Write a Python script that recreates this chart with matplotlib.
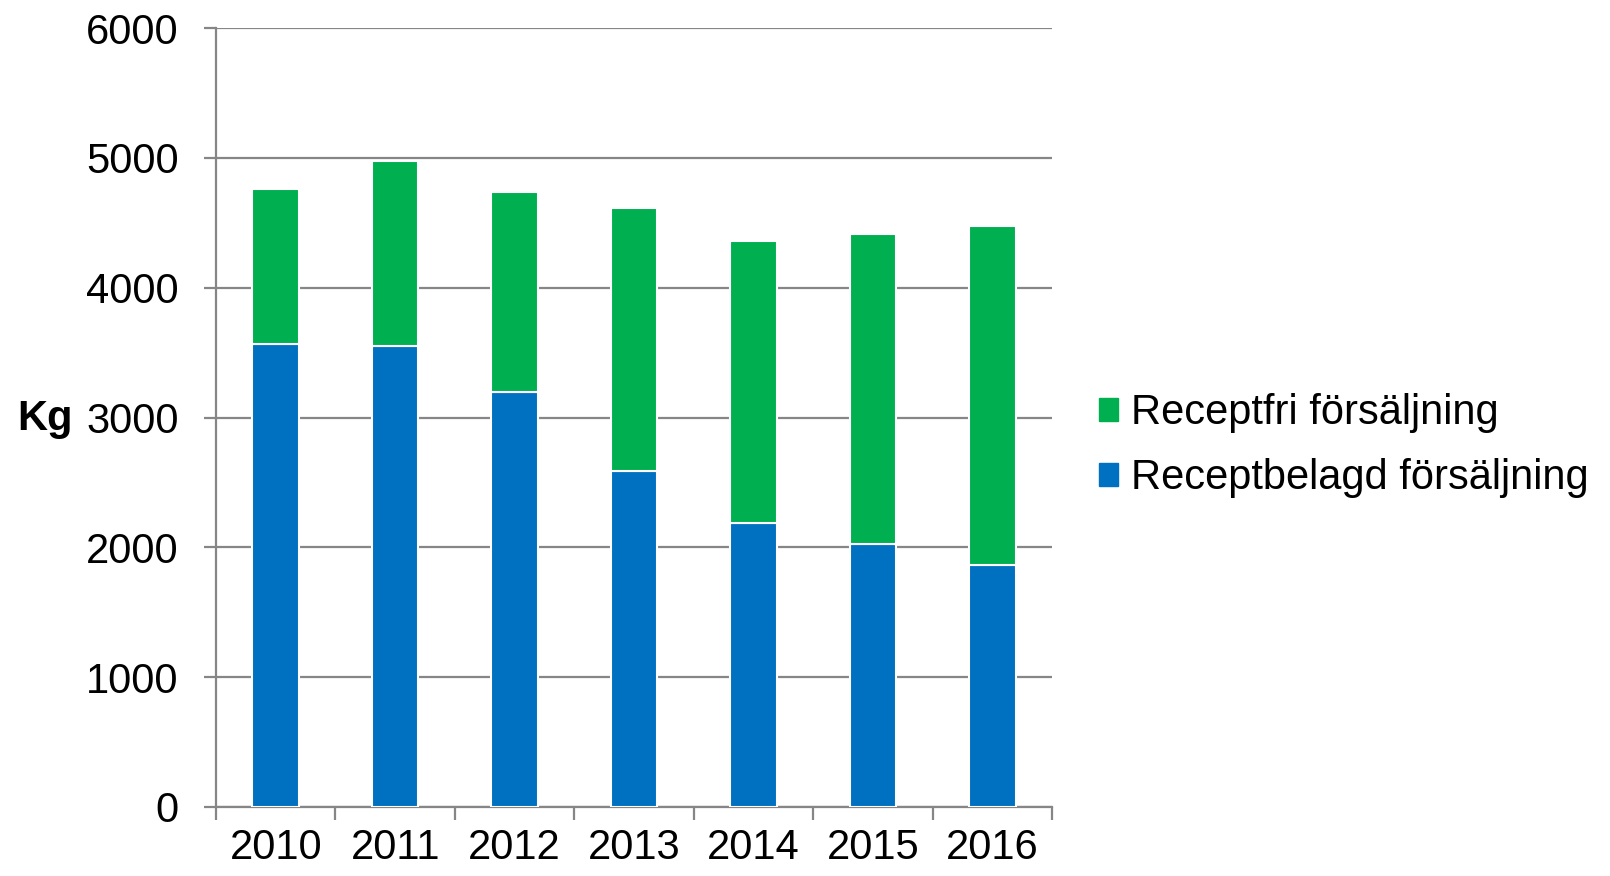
import matplotlib.pyplot as plt
import numpy as np
from matplotlib.patches import Patch

plt.rcParams["font.family"] = ["Liberation Sans", "DejaVu Sans"]

years = ["2010", "2011", "2012", "2013", "2014", "2015", "2016"]
receptbelagd = [3567, 3549, 3197, 2591, 2188, 2024, 1864]
totals = [4759, 4977, 4733, 4612, 4361, 4417, 4476]
receptfri = [t - b for t, b in zip(totals, receptbelagd)]

green = "#00B050"
blue = "#0070C0"
grey = "#868686"

fig = plt.figure(figsize=(16.1, 8.76), dpi=100)
ax = fig.add_axes([216 / 1610, 1 - 807 / 876, (1052 - 216) / 1610, (807 - 28) / 876])

x = np.arange(len(years))
ax.bar(x, receptbelagd, width=0.39, color=blue, edgecolor="white", linewidth=1.5, zorder=3)
ax.bar(x, receptfri, width=0.39, bottom=receptbelagd, color=green,
       edgecolor="white", linewidth=1.5, zorder=3)

ax.set_xlim(-0.5, len(years) - 0.5)
ax.set_ylim(0, 6000)
ax.set_yticks(np.arange(0, 6001, 1000))
ax.yaxis.grid(True, color=grey, linewidth=1.6, zorder=0)

# category labels centred, tick marks on the boundaries
ax.set_xticks(x)
ax.set_xticklabels(years)
ax.set_xticks(np.arange(-0.5, len(years)), minor=True)
ax.tick_params(axis="x", which="major", length=0, pad=15, labelsize=30)
ax.tick_params(axis="x", which="minor", length=9, width=1.6, color=grey)
ax.tick_params(axis="y", length=9, width=1.6, color=grey, pad=18, labelsize=30)

for side in ["top", "right"]:
    ax.spines[side].set_visible(False)
for side in ["left", "bottom"]:
    ax.spines[side].set_color(grey)
    ax.spines[side].set_linewidth(1.6)

fig.text(17 / 1610, 1 - 419 / 876, "Kg", fontsize=30, fontweight="bold",
         ha="left", va="center")

handles = [Patch(color=green, label="Receptfri försäljning"),
           Patch(color=blue, label="Receptbelagd försäljning")]
fig.legend(handles=handles, loc="upper left", bbox_to_anchor=(1099 / 1610, 1 - 393 / 876),
           frameon=False, fontsize=30, handlelength=0.46, handleheight=0.46,
           handletextpad=0.3, labelspacing=0.6, borderpad=0, borderaxespad=0)

fig.savefig("out.png", dpi=100)
